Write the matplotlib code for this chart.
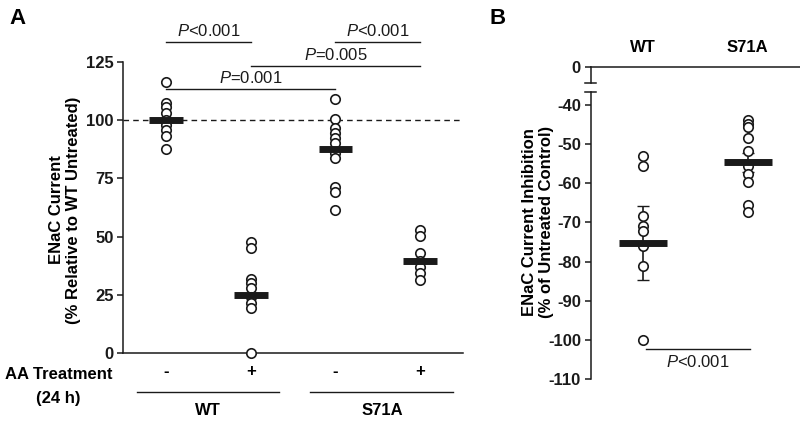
import matplotlib
matplotlib.use('Agg')
import matplotlib.pyplot as plt
from matplotlib.transforms import blended_transform_factory

plt.rcParams['font.family'] = ['Liberation Sans', 'DejaVu Sans']
plt.rcParams['mathtext.fontset'] = 'custom'
plt.rcParams['mathtext.it'] = 'Liberation Sans:italic'
plt.rcParams['mathtext.rm'] = 'Liberation Sans'
plt.rcParams['axes.unicode_minus'] = False

INK = '#1a1a1a'
FS = 12  # main text size

# Panel A: ENaC current relative to WT untreated (%)
groups_a = ['WT -', 'WT +', 'S71A -', 'S71A +']
treat_signs = ['-', '+', '-', '+']
genotypes = ['WT', 'S71A']
wt_untreated = [116.5, 107.5, 105.8, 103, 100, 97.9, 95.8, 93, 87.5]
wt_treated = [47.8, 45, 32, 30, 28, 24, 21.5, 19.2, 0]
s71a_untreated = [109, 100.3, 96.5, 94.4, 92.2, 90, 85.8, 83.6, 71.5, 69.3, 61.4]
s71a_treated = [52.8, 50.3, 43.1, 39.5, 37.1, 34.2, 31.4]
means_a = [100, 25, 87.5, 39.5]
errs_a = [3, 3.5, 4, 2.5]
yticks_a = [0, 25, 50, 75, 100, 125]
# comparisons: (group i, group j, line level, label)
comparisons_a = [(1, 2, 133.7, '$P$<0.001'),
                 (3, 4, 133.7, '$P$<0.001'),
                 (2, 4, 123.4, '$P$=0.005'),
                 (1, 3, 113.4, '$P$=0.001')]

# Panel B: ENaC current inhibition (% of untreated control)
groups_b = ['WT', 'S71A']
inhib_wt = [-53, -55.7, -68.3, -71, -72.3, -76.1, -81.2, -100]
inhib_s71a = [-43.8, -44.8, -45.7, -48.5, -51.7, -55.7, -57.6, -59.7, -65.5, -67.4]
means_b = [-75.2, -54.7]
errs_b = [9.4, 2.5]
yticks_b = [-40, -50, -60, -70, -80, -90, -100, -110]

fig = plt.figure(figsize=(8, 4.22), dpi=100)

# ---------- Panel A ----------
ax = fig.add_axes([0.154, 0.1635, 0.425, 0.6896])
data_a = [wt_untreated, wt_treated, s71a_untreated, s71a_treated]
for i, vals in enumerate(data_a):
    x = i + 1
    ax.errorbar(x, means_a[i], yerr=errs_a[i], color=INK, lw=1.2, capsize=3, zorder=2)
    ax.plot([x] * len(vals), vals, 'o', ms=6.8, mfc='white', mec=INK, mew=1.2,
            clip_on=False, zorder=3)
    ax.hlines(means_a[i], x - 0.2, x + 0.2, color=INK, lw=5, zorder=4)

ax.axhline(100, color=INK, lw=1, ls=(0, (4, 3)), zorder=1)
ax.set_xlim(0.49, 4.51)
ax.set_ylim(0, 125)
ax.set_yticks(yticks_a)
ax.set_xticks([])
for s in ['top', 'right']:
    ax.spines[s].set_visible(False)
for s in ['left', 'bottom']:
    ax.spines[s].set_linewidth(1.1)
    ax.spines[s].set_color(INK)
ax.tick_params(axis='y', direction='out', length=4, width=1.1, colors=INK,
               labelsize=FS, pad=3)
for lab in ax.get_yticklabels():
    lab.set_fontweight('bold')

for i, j, lvl, txt in comparisons_a:
    ax.plot([i, j], [lvl, lvl], color=INK, lw=1, clip_on=False)
    ax.text((i + j) / 2, lvl + 1.3, txt, ha='center', va='bottom', fontsize=FS, color=INK)

for i, sign in enumerate(treat_signs):
    ax.text(i + 1, -8, sign, ha='center', va='center', fontsize=FS, fontweight='bold')
ax.text(0.36, -14.2, 'AA Treatment\n(24 h)', ha='right', va='center', fontsize=FS,
        fontweight='bold', multialignment='center', linespacing=1.75)
for k, (x0, x1) in enumerate([(0.656, 2.336), (2.703, 4.395)]):
    ax.plot([x0, x1], [-16.6, -16.6], color=INK, lw=1, clip_on=False)
    ax.text((x0 + x1) / 2, -24.5, genotypes[k], ha='center', va='center',
            fontsize=FS, fontweight='bold')

fig.text(0.081, 1 - 210 / 422, 'ENaC Current\n(% Relative to WT Untreated)', rotation=90,
         ha='center', va='center', fontsize=FS, fontweight='bold', multialignment='center',
         linespacing=1.15)
fig.text(0.012, 0.955, 'A', fontsize=16, fontweight='bold', va='center')

# ---------- Panel B ----------
left_b = 590.7 / 800
axb = fig.add_axes([left_b, 1 - 379.3 / 422, 1 - left_b, (379.3 - 92.3) / 422])
axt = fig.add_axes([left_b, 1 - 82.7 / 422, 1 - left_b, 16 / 422], sharex=axb)

data_b = [inhib_wt, inhib_s71a]
for i, vals in enumerate(data_b):
    x = i + 1
    axb.errorbar(x, means_b[i], yerr=errs_b[i], color=INK, lw=1.2, capsize=4, zorder=2)
    axb.plot([x] * len(vals), vals, 'o', ms=6.8, mfc='white', mec=INK, mew=1.2,
             clip_on=False, zorder=3)
    axb.hlines(means_b[i], x - 0.23, x + 0.23, color=INK, lw=5, zorder=4)

axb.set_xlim(0.5, 2.5)
axb.set_ylim(-110, -36.8)
axb.set_yticks(yticks_b)
axb.set_xticks([])
for s in ['top', 'right', 'bottom']:
    axb.spines[s].set_visible(False)
axb.spines['left'].set_linewidth(1.1)
axb.spines['left'].set_color(INK)
axb.tick_params(axis='y', direction='out', length=4, width=1.1, colors=INK,
                labelsize=FS, pad=3)
for lab in axb.get_yticklabels():
    lab.set_fontweight('bold')

axt.set_ylim(-4.1, 0)
axt.set_yticks([0])
for s in ['right', 'bottom']:
    axt.spines[s].set_visible(False)
for s in ['left', 'top']:
    axt.spines[s].set_linewidth(1.1)
    axt.spines[s].set_color(INK)
axt.tick_params(axis='y', direction='out', length=4, width=1.1, colors=INK,
                labelsize=FS, pad=3)
axt.tick_params(axis='x', bottom=False, labelbottom=False)
for lab in axt.get_yticklabels():
    lab.set_fontweight('bold')

# break caps on the y axis
cap = 5.5 / 800 / (1 - left_b)
axt.plot([-cap, cap], [0, 0], transform=axt.transAxes, color=INK, lw=1.1, clip_on=False)
axb.plot([-cap, cap], [1, 1], transform=axb.transAxes, color=INK, lw=1.1, clip_on=False)

axb.plot([1.03, 2.02], [-102.3, -102.3], color=INK, lw=1, clip_on=False)
axb.text(1.52, -103.6, '$P$<0.001', ha='center', va='top', fontsize=FS, color=INK)

tr = blended_transform_factory(axt.transData, fig.transFigure)
for i, g in enumerate(groups_b):
    axt.text(i + 1, 1 - 48 / 422, g, transform=tr, ha='center', va='center',
             fontsize=FS, fontweight='bold')

fig.text(0.6725, 1 - 222 / 422, 'ENaC Current Inhibition\n(% of Untreated Control)', rotation=90,
         ha='center', va='center', fontsize=FS, fontweight='bold', multialignment='center',
         linespacing=1.15)
fig.text(0.612, 0.955, 'B', fontsize=16, fontweight='bold', va='center')

fig.savefig('out.png', dpi=100, facecolor='white')
